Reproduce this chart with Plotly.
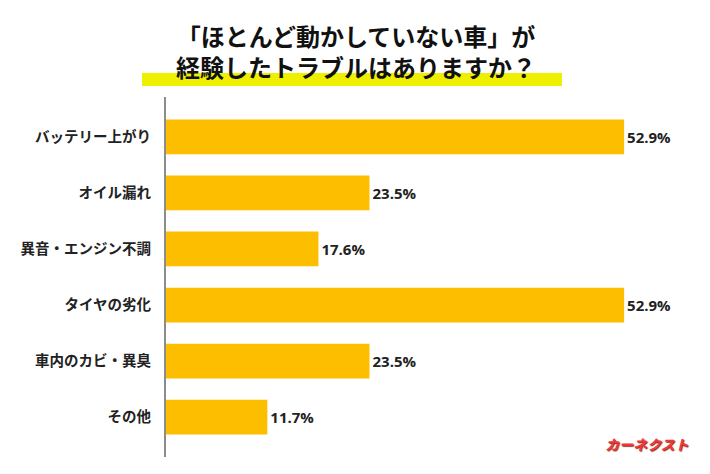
import plotly.graph_objects as go

# data
categories = ["バッテリー上がり", "オイル漏れ", "異音・エンジン不調",
              "タイヤの劣化", "車内のカビ・異臭", "その他"]
percent = [52.9, 23.5, 17.6, 52.9, 23.5, 11.7]
value_labels = ["52.9%", "23.5%", "17.6%", "52.9%", "23.5%", "11.7%"]

title_lines = ["「ほとんど動かしていない車」が", "経験したトラブルはありますか？"]
logo_text = "カーネクスト"

W, H = 710, 474
L, R, T, B = 166, 24, 97, 17
plot_w = W - L - R
plot_h = H - T - B

def px_x(x):
    return (x - L) / plot_w

def px_y(y):
    return (H - B - y) / plot_h

bar_color = "#FDBE00"
font_family = "Noto Sans CJK JP, Noto Sans, sans-serif"

fig = go.Figure()
fig.add_trace(go.Bar(
    x=percent,
    y=categories,
    orientation="h",
    width=0.62,
    marker=dict(color=bar_color, line=dict(width=0)),
    text=value_labels,
    textposition="outside",
    textfont=dict(family="Open Sans, Noto Sans, sans-serif", size=15, color="#222222", weight="bold"),
    cliponaxis=False,
    hoverinfo="skip",
))

# yellow highlighter band under second title line
fig.add_shape(type="rect", xref="paper", yref="paper",
              x0=px_x(142), x1=px_x(562), y0=px_y(86), y1=px_y(73),
              fillcolor="#EEF000", line=dict(width=0), layer="below")

# two-line title as one text block
fig.add_annotation(xref="paper", yref="paper", x=px_x(356), y=px_y(51),
                   xanchor="center", yanchor="middle", align="center",
                   text="<b>" + "<br>".join(title_lines) + "</b>", showarrow=False,
                   font=dict(family=font_family, size=24, color="#111111"))

fig.add_annotation(xref="paper", yref="paper", x=px_x(647), y=px_y(444),
                   xanchor="center", yanchor="middle",
                   text="<b><i>" + logo_text + "</i></b>", showarrow=False,
                   font=dict(family=font_family, size=14, color="#F03838",
                             shadow="1px 1px 1px #8a1a1a"))

fig.update_layout(
    width=W, height=H,
    margin=dict(l=L, r=R, t=T, b=B, pad=0),
    paper_bgcolor="white", plot_bgcolor="white",
    showlegend=False,
    bargap=0.38,
    xaxis=dict(range=[0, plot_w / 8.66], visible=False, fixedrange=True),
    yaxis=dict(
        range=[5.71, -0.71],
        showline=True, linecolor="#8c8c8c", linewidth=2,
        showgrid=False, zeroline=False,
        ticks="", ticklabelstandoff=10,
        tickfont=dict(family=font_family, size=14.5, color="#222222", weight="bold"),
        fixedrange=True,
    ),
)

# drop the default page margin so the figure sits at the window's corner
fig.write_html("out.html", config={"displayModeBar": False},
               post_script="document.body.style.margin='0';")
